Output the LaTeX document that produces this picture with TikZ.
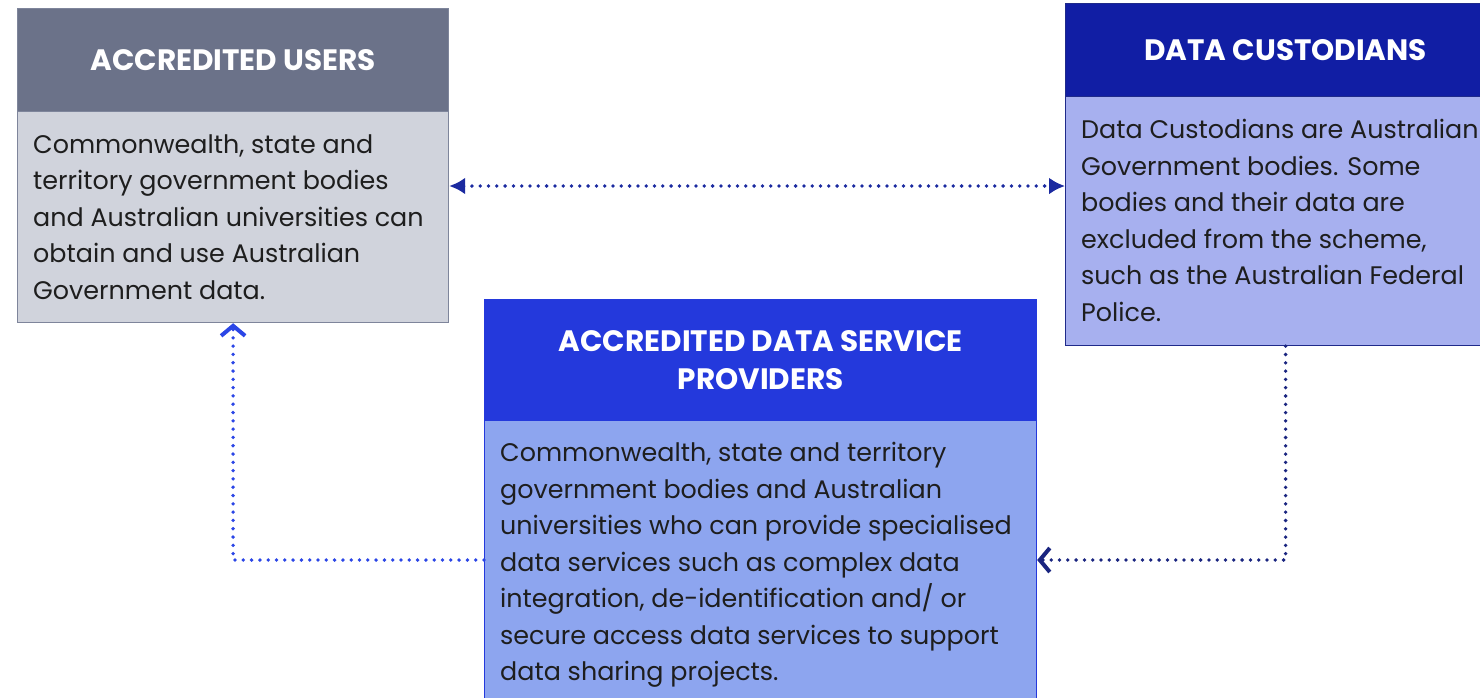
\documentclass[tikz,border=0pt]{standalone}
\usepackage{fontspec}
\setmainfont{Poppins}
\usetikzlibrary{arrows.meta}
\definecolor{auH}{HTML}{6B7289}
\definecolor{auB}{HTML}{D0D3DC}
\definecolor{auD}{HTML}{7E859B}
\definecolor{dcH}{HTML}{111EA4}
\definecolor{dcB}{HTML}{A7B0EF}
\definecolor{dcD}{HTML}{1F2A8A}
\definecolor{adH}{HTML}{2439DC}
\definecolor{adB}{HTML}{8DA5EF}
\definecolor{adD}{HTML}{2439DC}
\definecolor{arA}{HTML}{1B2AA0}
\definecolor{arB}{HTML}{2B46E6}
\definecolor{arC}{HTML}{1A2580}
\definecolor{txtc}{HTML}{1E1E1E}
\tikzset{
  hdr/.style={rectangle, anchor=north west, inner sep=0pt, text=white, align=center,
    font=\fontsize{29.5}{38}\selectfont\bfseries, line width=1.2pt},
  bodybox/.style={rectangle, anchor=north west, inner sep=0pt, line width=1.2pt},
  bodytext/.style={anchor=north west, inner sep=0pt, align=left, text=txtc,
    font=\fontsize{25.4}{36.5}\selectfont},
  dotline/.style={line width=3.8pt, line cap=round, dash pattern=on 0pt off 8.3pt},
  fullhead/.style={{Latex[length=16pt,width=17pt]}-{Latex[length=16pt,width=17pt]}},
  chev/.style={-{Straight Barb[length=10pt,width=24pt,line width=4pt]}}
}
\begin{document}
\begin{tikzpicture}[x=1pt,y=-1pt]
\useasboundingbox (0,0) rectangle (1480,697);
\clip (0,0) rectangle (1480,697);
% Accredited users
\node[bodybox, fill=auB, draw=auD, minimum width=431pt, minimum height=211pt] (aub) at (17,111) {};
\node[hdr, fill=auH, draw=auD, minimum width=431pt, minimum height=103pt] (auh) at (17,8) {ACCREDITED USERS};
\node[bodytext] (aut) at (33,134) {Commonwealth, state and\\territory government bodies\\and Australian universities can\\obtain and use Australian\\Government data.};
% Data custodians
\node[bodybox, fill=dcB, draw=dcD, minimum width=440pt, minimum height=249pt] (dcb) at (1065,96) {};
\node[hdr, fill=dcH, draw=dcD, minimum width=440pt, minimum height=93pt] (dch) at (1065,3) {DATA CUSTODIANS};
\node[bodytext] (dct) at (1081,119) {Data Custodians are Australian\\Government bodies. Some\\bodies and their data are\\excluded from the scheme,\\such as the Australian Federal\\Police.};
% ADSP
\node[bodybox, fill=adB, draw=adD, minimum width=552pt, minimum height=300pt] (adb) at (484,420) {};
\node[hdr, fill=adH, draw=adD, minimum width=552pt, minimum height=121pt] (adh) at (484,299) {ACCREDITED DATA SERVICE\\PROVIDERS};
\node[bodytext] (adt) at (500,442) {Commonwealth, state and territory\\government bodies and Australian\\universities who can provide specialised\\data services such as complex data\\integration, de-identification and/ or\\secure access data services to support\\data sharing projects.};
% connectors
\coordinate (ytop) at (0,186);
\coordinate (ylow) at (0,560);
\draw[dotline, arA, fullhead] (aub.east |- ytop) -- (dcb.west |- ytop);
\draw[dotline, arB, chev] (adb.west |- ylow) -| (aub.south);
\draw[dotline, arC, chev] (dcb.south) |- (adb.east |- ylow);
\end{tikzpicture}
\end{document}
